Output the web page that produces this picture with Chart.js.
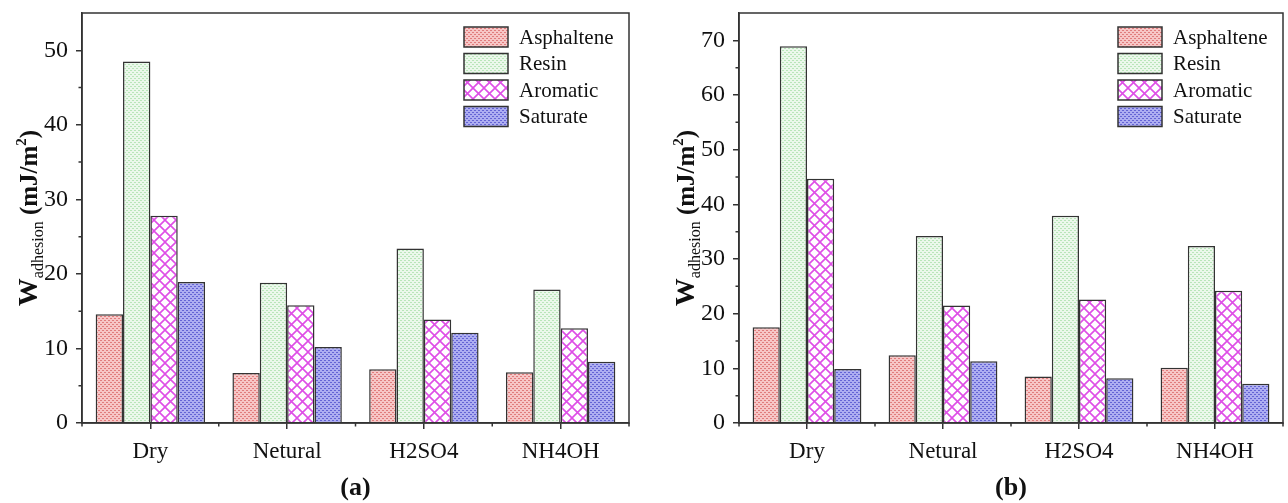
<!DOCTYPE html>
<html>
<head>
<meta charset="utf-8">
<script src="https://cdn.jsdelivr.net/npm/chart.js@4/dist/chart.umd.min.js"></script>
<style>
  body { margin: 0; background: #fff; }
  #wrap { position: relative; width: 1288px; height: 503px; }
  canvas { position: absolute; top: 0; }
  #chartA { left: 0; }
  #chartB { left: 644px; }
</style>
</head>
<body>
<div id="wrap">
  <canvas id="chartA" width="644" height="503"></canvas>
  <canvas id="chartB" width="644" height="503"></canvas>
</div>
<script>
  const categories = ["Dry", "Netural", "H2SO4", "NH4OH"];
  const seriesNames = ["Asphaltene", "Resin", "Aromatic", "Saturate"];

  // panel (a)
  const asphalteneA = [14.6, 6.7, 7.2, 6.8];
  const resinA = [48.5, 18.8, 23.4, 17.9];
  const aromaticA = [27.8, 15.8, 13.9, 12.7];
  const saturateA = [18.9, 10.2, 12.1, 8.2];
  const yMaxA = 55;

  // panel (b)
  const asphalteneB = [17.5, 12.4, 8.5, 10.1];
  const resinB = [68.9, 34.2, 37.9, 32.4];
  const aromaticB = [44.7, 21.5, 22.6, 24.2];
  const saturateB = [9.9, 11.3, 8.2, 7.2];
  const yMaxB = 75;

  const SERIF = "'Liberation Serif', 'Times New Roman', serif";
  const INK = "#333";

  function dotPattern(bg, dot) {
    const c = document.createElement("canvas");
    c.width = 4;
    c.height = 4;
    const g = c.getContext("2d");
    g.fillStyle = bg;
    g.fillRect(0, 0, 4, 4);
    g.fillStyle = dot;
    g.fillRect(0, 0, 2, 1);
    g.fillRect(2, 2, 2, 1);
    return g.createPattern(c, "repeat");
  }

  function crossPattern(line) {
    const s = 11;
    const c = document.createElement("canvas");
    c.width = s;
    c.height = s;
    const g = c.getContext("2d");
    g.fillStyle = "#fff";
    g.fillRect(0, 0, s, s);
    g.strokeStyle = line;
    g.lineWidth = 1.6;
    for (const k of [-s, 0, s]) {
      g.beginPath();
      g.moveTo(k, 0);
      g.lineTo(k + s, s);
      g.moveTo(k, s);
      g.lineTo(k + s, 0);
      g.stroke();
    }
    return g.createPattern(c, "repeat");
  }

  const fills = [
    dotPattern("#f7c6c6", "#e07c7c"),
    dotPattern("#ebf8eb", "#b9e5b9"),
    crossPattern("#de4fe6"),
    dotPattern("#adadf1", "#6363d4")
  ];

  function makeDatasets(series) {
    return series.map((data, i) => ({
      label: seriesNames[i],
      data,
      backgroundColor: fills[i],
      borderColor: INK,
      borderWidth: 1.5,
      categoryPercentage: 0.8,
      barPercentage: 1.0
    }));
  }

  // frame, minor ticks, legend, y title and panel letter
  const decor = {
    id: "decor",
    afterDatasetsDraw(chart, args, opts) {
      const { ctx, chartArea: a } = chart;
      const x = chart.scales.x;
      const y = chart.scales.y;
      ctx.save();
      ctx.strokeStyle = INK;
      ctx.lineWidth = 1.5;
      ctx.strokeRect(a.left, a.top, a.right - a.left, a.bottom - a.top);

      // minor ticks
      ctx.beginPath();
      for (let v = 5; v < opts.yMax; v += 10) {
        const py = y.getPixelForValue(v);
        ctx.moveTo(a.left, py);
        ctx.lineTo(a.left - 3.5, py);
      }
      for (let i = 0; i <= categories.length; i += 1) {
        const px = x.getPixelForValue(i - 0.5);
        ctx.moveTo(px, a.bottom);
        ctx.lineTo(px, a.bottom + 3.5);
      }
      ctx.stroke();

      // legend
      const lx = a.right - 165;
      let ly = a.top + 14;
      ctx.font = `21px ${SERIF}`;
      ctx.textBaseline = "middle";
      chart.data.datasets.forEach((ds) => {
        ctx.fillStyle = ds.backgroundColor;
        ctx.fillRect(lx, ly, 44, 20);
        ctx.lineWidth = 1.5;
        ctx.strokeRect(lx, ly, 44, 20);
        ctx.fillStyle = "#111";
        ctx.fillText(ds.label, lx + 55, ly + 11);
        ly += 26.5;
      });

      // y axis title
      const parts = [
        { t: "W", font: `bold 28px ${SERIF}`, dy: 0 },
        { t: "adhesion", font: `16px ${SERIF}`, dy: 6 },
        { t: " (mJ/m", font: `bold 25px ${SERIF}`, dy: 0 },
        { t: "2", font: `bold 15px ${SERIF}`, dy: -11 },
        { t: ")", font: `bold 25px ${SERIF}`, dy: 0 }
      ];
      let total = 0;
      parts.forEach((p) => {
        ctx.font = p.font;
        p.w = ctx.measureText(p.t).width;
        total += p.w;
      });
      ctx.translate(a.left - 45, (a.top + a.bottom) / 2);
      ctx.rotate(-Math.PI / 2);
      ctx.textBaseline = "alphabetic";
      ctx.fillStyle = "#111";
      let tx = -total / 2;
      parts.forEach((p) => {
        ctx.font = p.font;
        ctx.fillText(p.t, tx, p.dy);
        tx += p.w;
      });
      ctx.restore();

      ctx.save();
      ctx.font = `bold 26px ${SERIF}`;
      ctx.fillStyle = "#111";
      ctx.textAlign = "center";
      ctx.textBaseline = "alphabetic";
      ctx.fillText(opts.panel, (a.left + a.right) / 2, 495);
      ctx.restore();
    }
  };

  function buildChart(el, series, yMax, axisWidth, padRight, panel) {
    return new Chart(el, {
      type: "bar",
      data: { labels: categories, datasets: makeDatasets(series) },
      plugins: [decor],
      options: {
        responsive: false,
        animation: false,
        layout: { padding: { left: 0, right: padRight, top: 13, bottom: 0 } },
        plugins: {
          legend: { display: false },
          tooltip: { enabled: false },
          decor: { panel, yMax }
        },
        scales: {
          x: {
            grid: { display: true, drawOnChartArea: false, offset: false, tickLength: 6, color: INK, lineWidth: 1.5 },
            border: { color: INK, width: 1.5 },
            ticks: { color: "#111", padding: 9, font: { family: SERIF, size: 23 } },
            afterFit: (s) => {
              s.height = 80;
              s.paddingLeft = 0;
              s.paddingRight = 0;
            }
          },
          y: {
            min: 0,
            max: yMax,
            grid: { display: true, drawOnChartArea: false, tickLength: 6, color: INK, lineWidth: 1.5 },
            border: { color: INK, width: 1.5 },
            ticks: {
              stepSize: 10,
              includeBounds: false,
              color: "#111",
              padding: 8,
              font: { family: SERIF, size: 24 },
              callback: (v) => (v % 10 === 0 ? v : "")
            },
            afterFit: (s) => {
              s.width = axisWidth;
              s.paddingTop = 0;
              s.paddingBottom = 0;
            }
          }
        }
      }
    });
  }

  buildChart(document.getElementById("chartA"), [asphalteneA, resinA, aromaticA, saturateA], yMaxA, 82, 15, "(a)");
  buildChart(document.getElementById("chartB"), [asphalteneB, resinB, aromaticB, saturateB], yMaxB, 95, 5, "(b)");
</script>
</body>
</html>
